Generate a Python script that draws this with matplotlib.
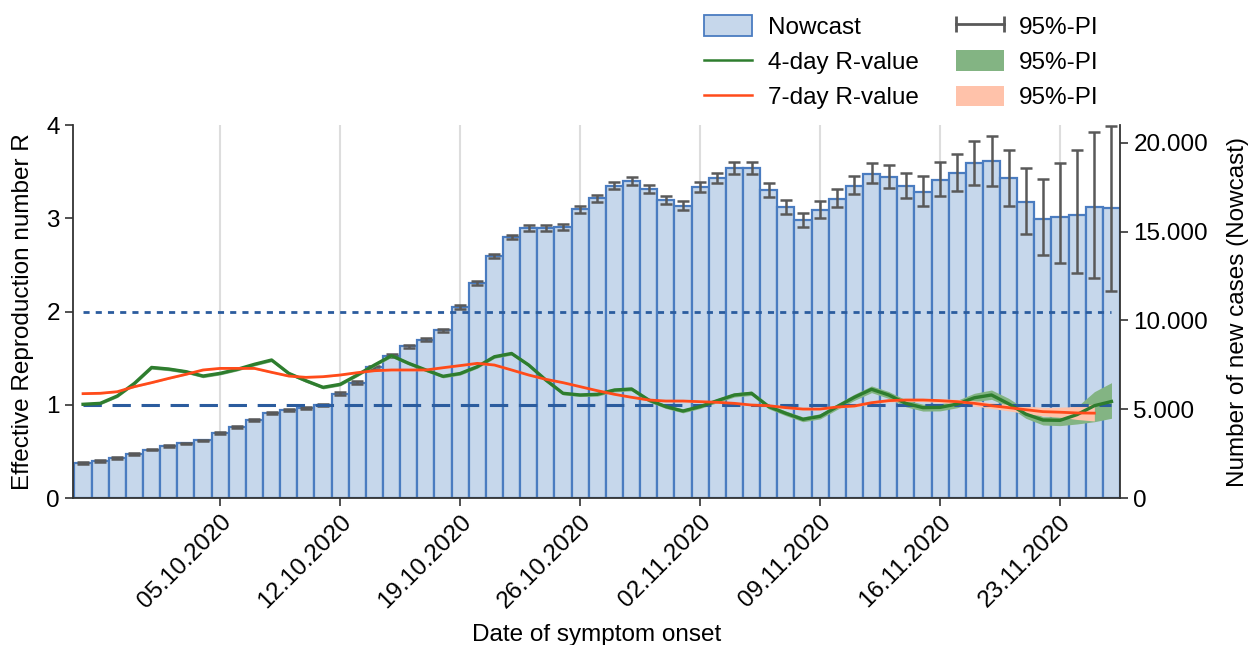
import numpy as np
import pandas as pd
import matplotlib
matplotlib.use("Agg")
import matplotlib.pyplot as plt
import matplotlib.dates as mdates
from matplotlib.patches import Patch
from matplotlib.lines import Line2D
from matplotlib.legend_handler import HandlerLine2D
from matplotlib.ticker import FuncFormatter

plt.rcParams['font.family'] = ['Liberation Sans', 'DejaVu Sans']

# Nowcast of new cases per day of symptom onset (27.09.2020 - 26.11.2020)
nowcast = [1950, 2100, 2270, 2470, 2730, 2920, 3070, 3240, 3670, 4010,
           4380, 4790, 4940, 5090, 5240, 5880, 6480, 7360, 8020, 8540,
           8910, 9440, 10750, 12100, 13600, 14720, 15210, 15210, 15240, 16250,
           16870, 17580, 17870, 17400, 16780, 16460, 17530, 18000, 18580, 18580,
           17360, 16370, 15670, 16240, 16840, 17580, 18240, 18090, 17550, 17210,
           17900, 18280, 18840, 18990, 18020, 16650, 15710, 15840, 15940, 16370, 16310]
nowcast_lower = [1900, 2050, 2220, 2420, 2680, 2870, 3020, 3190, 3610, 3950,
                 4320, 4730, 4880, 5030, 5180, 5800, 6400, 7280, 7940, 8460,
                 8830, 9360, 10640, 11990, 13490, 14610, 15060, 15060, 15080, 16060,
                 16670, 17370, 17650, 17180, 16550, 16220, 17250, 17710, 18230, 18230,
                 16970, 15990, 15270, 15770, 16365, 17118, 17713, 17455, 16893, 16461,
                 16983, 17303, 17641, 17584, 16421, 14871, 13708, 13242, 12680, 12377, 11629]
nowcast_upper = [2000, 2150, 2320, 2520, 2780, 2970, 3120, 3290, 3730, 4070,
                 4440, 4850, 5000, 5150, 5300, 5960, 6560, 7440, 8100, 8620,
                 8990, 9520, 10860, 12210, 13710, 14830, 15360, 15360, 15400, 16440,
                 17070, 17790, 18090, 17620, 17010, 16700, 17810, 18290, 18930, 18930,
                 17750, 16750, 16070, 16710, 17399, 18146, 18837, 18764, 18298, 18107,
                 18894, 19365, 20073, 20393, 19590, 18556, 17961, 18860, 19607, 20618, 20950]

# 4-day R-value and its 95%-PI
r4 = [1.005, 1.015, 1.094, 1.23, 1.40, 1.383, 1.355, 1.308, 1.337, 1.38,
      1.434, 1.48, 1.337, 1.258, 1.187, 1.219, 1.319, 1.426, 1.526, 1.444,
      1.373, 1.305, 1.335, 1.408, 1.515, 1.55, 1.426, 1.265, 1.123, 1.105,
      1.112, 1.158, 1.169, 1.051, 0.98, 0.933, 0.98, 1.044, 1.105, 1.123,
      0.98, 0.908, 0.844, 0.876, 0.98, 1.08, 1.166, 1.105, 1.015, 0.969,
      0.972, 1.008, 1.075, 1.105, 1.01, 0.90, 0.836, 0.833, 0.895, 0.99, 1.035]
r4_lower = [0.99, 1.00, 1.078, 1.213, 1.382, 1.365, 1.337, 1.29, 1.32, 1.363,
            1.417, 1.463, 1.32, 1.241, 1.17, 1.202, 1.302, 1.409, 1.509, 1.427,
            1.356, 1.288, 1.318, 1.391, 1.498, 1.533, 1.409, 1.248, 1.106, 1.088,
            1.092, 1.138, 1.149, 1.031, 0.96, 0.913, 0.96, 1.022, 1.083, 1.10,
            0.956, 0.883, 0.818, 0.848, 0.95, 1.047, 1.13, 1.068, 0.978, 0.932,
            0.934, 0.968, 1.033, 1.058, 0.98, 0.855, 0.783, 0.776, 0.794, 0.818, 0.855]
r4_upper = [1.02, 1.03, 1.11, 1.247, 1.418, 1.401, 1.373, 1.326, 1.354, 1.397,
            1.451, 1.497, 1.354, 1.275, 1.204, 1.236, 1.336, 1.443, 1.543, 1.461,
            1.39, 1.322, 1.352, 1.425, 1.532, 1.567, 1.443, 1.282, 1.14, 1.122,
            1.132, 1.178, 1.189, 1.071, 1.00, 0.953, 1.00, 1.066, 1.127, 1.146,
            1.004, 0.933, 0.87, 0.904, 1.01, 1.113, 1.202, 1.142, 1.052, 1.006,
            1.01, 1.048, 1.123, 1.158, 1.069, 0.951, 0.872, 0.872, 0.98, 1.14, 1.237]

# 7-day R-value and its 95%-PI (no value for the last day)
r7 = [1.119, 1.123, 1.14, 1.194, 1.237, 1.283, 1.326, 1.373, 1.39, 1.39,
      1.39, 1.348, 1.308, 1.294, 1.301, 1.319, 1.344, 1.365, 1.373, 1.373,
      1.373, 1.397, 1.42, 1.444, 1.426, 1.373, 1.319, 1.273, 1.237, 1.194,
      1.151, 1.112, 1.08, 1.051, 1.04, 1.04, 1.033, 1.026, 1.015, 0.997,
      0.99, 0.969, 0.954, 0.954, 0.976, 0.987, 1.022, 1.044, 1.051, 1.051,
      1.044, 1.033, 1.015, 0.99, 0.969, 0.947, 0.926, 0.92, 0.912, 0.91, np.nan]
r7_lower = [1.111, 1.115, 1.132, 1.186, 1.229, 1.275, 1.318, 1.365, 1.382, 1.382,
            1.382, 1.34, 1.30, 1.286, 1.293, 1.311, 1.336, 1.357, 1.365, 1.365,
            1.365, 1.389, 1.412, 1.436, 1.418, 1.365, 1.311, 1.265, 1.229, 1.186,
            1.143, 1.104, 1.072, 1.043, 1.032, 1.032, 1.025, 1.018, 1.007, 0.989,
            0.982, 0.96, 0.944, 0.944, 0.965, 0.975, 1.01, 1.03, 1.036, 1.034,
            1.024, 1.008, 0.987, 0.96, 0.934, 0.907, 0.881, 0.866, 0.842, 0.826, np.nan]
r7_upper = [1.127, 1.131, 1.148, 1.202, 1.245, 1.291, 1.334, 1.381, 1.398, 1.398,
            1.398, 1.356, 1.316, 1.302, 1.309, 1.327, 1.352, 1.373, 1.381, 1.381,
            1.381, 1.405, 1.428, 1.452, 1.434, 1.381, 1.327, 1.281, 1.245, 1.202,
            1.159, 1.12, 1.088, 1.059, 1.048, 1.048, 1.041, 1.034, 1.023, 1.005,
            0.998, 0.978, 0.964, 0.964, 0.987, 0.999, 1.034, 1.058, 1.066, 1.068,
            1.064, 1.058, 1.043, 1.02, 1.004, 0.987, 0.971, 0.974, 0.982, 1.01, np.nan]

dates = pd.date_range("2020-09-27", periods=len(nowcast), freq="D")
tick_dates = pd.date_range("2020-10-05", "2020-11-23", freq="7D")

bar_fill = '#c6d7eb'
bar_edge = '#4a7cc0'
err_col = '#595959'
green = '#2e7d2e'
green_band = '#83b483'
red = '#ff4b1a'
red_band = '#ffc2aa'
ref_col = '#2b5c9e'

fig = plt.figure(figsize=(12.53, 6.45), dpi=100)
ax = fig.add_axes([0.0583, 0.2279, 0.8356, 0.5783])
ax_r = ax.twinx()
ax.set_zorder(ax_r.get_zorder() + 1)
ax.patch.set_visible(False)

# grid lines, bars and error bars on the case axis (drawn below)
for d in tick_dates:
    ax_r.axvline(d, color='#dddddd', lw=1.5, zorder=0)
ax_r.bar(dates, nowcast, width=1.0, color=bar_fill, edgecolor=bar_edge, linewidth=1.6, zorder=1)
yerr = [np.array(nowcast) - np.array(nowcast_lower), np.array(nowcast_upper) - np.array(nowcast)]
ax_r.errorbar(dates, nowcast, yerr=yerr, fmt='none', ecolor=err_col, elinewidth=1.8,
              capsize=4.5, capthick=1.8, zorder=2)

# R-values
ax.fill_between(dates, r4_lower, r4_upper, color=green_band, lw=0, zorder=1)
ax.fill_between(dates, r7_lower, r7_upper, color=red_band, lw=0, zorder=1)
ax.hlines(1, dates[0], dates[-1], color=ref_col, lw=2.2, linestyles=(0, (6, 3.5)), zorder=2)
ax.hlines(2, dates[0], dates[-1], color=ref_col, lw=2.0, linestyles=(0, (2.2, 2.2)), zorder=2)
ax.plot(dates, r4, color=green, lw=2.4, zorder=3)
ax.plot(dates, r7, color=red, lw=2.0, zorder=4)

ax.set_xlim(dates[0] - pd.Timedelta(hours=14), dates[-1] + pd.Timedelta(hours=12))
ax.set_ylim(0, 4)
ax.set_yticks([0, 1, 2, 3, 4])
ax_r.set_ylim(0, 21000)
ax_r.set_yticks([0, 5000, 10000, 15000, 20000])
ax_r.yaxis.set_major_formatter(FuncFormatter(lambda v, p: f"{int(v):,}".replace(",", ".")))

ax.set_xticks(tick_dates)
ax.xaxis.set_major_formatter(mdates.DateFormatter("%d.%m.%Y"))
plt.setp(ax.get_xticklabels(), rotation=45, ha='right', rotation_mode='anchor')

for a in (ax, ax_r):
    a.tick_params(labelsize=17.5, direction='out', length=6, width=1.2, color='#333333')
    a.spines['top'].set_visible(False)
    for s in a.spines.values():
        s.set_color('#333333')
        s.set_linewidth(1.3)
ax.spines['right'].set_visible(False)
ax_r.spines['left'].set_visible(False)
ax_r.spines['bottom'].set_visible(False)

ax.set_xlabel("Date of symptom onset", fontsize=17.5, labelpad=8)
ax.set_ylabel("Effective Reproduction number R", fontsize=17.5, labelpad=9)
ax_r.set_ylabel("Number of new cases (Nowcast)", fontsize=17.5, labelpad=14)

err_handle = Line2D([], [], color=err_col, lw=2, marker='|', markersize=12, markeredgewidth=2)
handles = [Patch(facecolor=bar_fill, edgecolor=bar_edge, lw=1.3),
           Line2D([], [], color=green, lw=1.8),
           Line2D([], [], color=red, lw=1.8),
           err_handle,
           Patch(facecolor=green_band),
           Patch(facecolor=red_band)]
labels = ["Nowcast", "4-day R-value", "7-day R-value", "95%-PI", "95%-PI", "95%-PI"]
fig.legend(handles, labels, ncol=2, loc='upper right', bbox_to_anchor=(1099 / 1253, 1 - 15 / 645),
           frameon=False, fontsize=17.5, handlelength=1.95, handleheight=0.95, handletextpad=0.65,
           columnspacing=1.55, labelspacing=0.47, borderpad=0, borderaxespad=0,
           handler_map={err_handle: HandlerLine2D(numpoints=2, marker_pad=0)})

fig.savefig("out.png", dpi=100)
